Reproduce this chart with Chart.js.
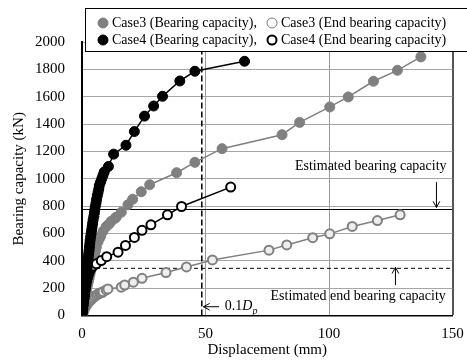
<!DOCTYPE html>
<html><head><meta charset="utf-8">
<script src="https://cdn.jsdelivr.net/npm/chart.js@4/dist/chart.umd.min.js"></script>
<style>html,body{margin:0;padding:0;background:#fff}</style>
</head><body>
<canvas id="c" width="467" height="360"></canvas>
<script>
// ---- data ----
const case3BearingDisp = [0,0.2,0.5,0.7,1,1.3,1.5,1.8,2,2.3,2.6,2.9,3.2,3.5,3.8,4.1,4.4,4.8,5.1,5.5,5.8,6.5,7.1,7.5,8.5,9.8,11,11.9,13.5,13.9,15.9,18.6,20.5,24,27.4,38.3,45.7,56.7,81,88.1,100.3,107.8,118,127.7,137.2];
const case3BearingLoad = [0,25,50,75,100,125,150,175,200,225,250,275,300,325,350,375,400,425,450,475,500,540,565,580,615,650,670,690,712,720,755,810,850,905,956,1044,1120,1220,1322,1412,1525,1598,1713,1793,1891];
const case3EndDisp = [0,0.3,0.6,0.9,1.2,1.6,2,2.4,2.8,3.2,3.7,4.1,4.5,5.1,5.8,6.4,7.1,7.5,8.2,8.5,9.8,10.5,15.9,17.3,20.8,24.3,34,42.3,52.8,75.7,82.9,93.4,100.3,109.4,119.6,128.8];
const case3EndLoad = [0,15,30,43,55,68,80,90,100,108,115,123,130,140,148,157,162,165,168,174,187,194,207,223,244,272,314,355,406,478,516,569,597,651,694,736];
const case4BearingDisp = [0,0.15,0.3,0.45,0.6,0.75,0.9,1.0,1.2,1.35,1.5,1.65,1.8,1.95,2.1,2.25,2.4,2.55,2.7,2.85,3.0,3.15,3.3,3.5,3.7,3.9,4.1,4.3,4.5,4.8,5.0,5.2,5.4,5.7,5.9,6.2,6.5,6.8,7.0,7.5,8.0,8.5,9.0,10.7,12.8,17.8,21.2,25.3,29.0,32.6,39.6,45.7,65.8];
const case4BearingLoad = [0,25,50,75,100,125,150,175,200,225,250,275,300,325,350,375,400,425,450,475,500,525,550,575,600,625,650,675,700,725,750,775,800,825,850,875,900,925,950,975,1000,1025,1050,1090,1180,1245,1345,1458,1532,1603,1715,1786,1859];
const case4EndDisp = [0,0.15,0.3,0.45,0.6,0.8,1,1.2,1.4,1.6,1.9,2.2,2.6,3.0,3.4,4.0,4.5,5.8,7.8,10,14.6,17.6,21.2,24.3,27.9,34.6,40.3,60.2];
const case4EndLoad = [0,25,50,75,100,125,150,175,200,225,250,275,300,320,340,352,362,378,402,430,463,512,571,623,663,736,797,939];
// reference levels
const estBearingCapacity = 775;
const estEndBearingCapacity = 345;
const dispLimit = 48.5;
// axis ticks
const xTickValues = [0,50,100,150];
const yTickValues = [0,200,400,600,800,1000,1200,1400,1600,1800,2000];
const seriesLabels = ['Case3 (Bearing capacity)','Case3 (End bearing capacity)','Case4 (Bearing capacity)','Case4 (End bearing capacity)'];

const pts = (xs, ys) => xs.map((x, i) => ({x, y: ys[i]}));
const SERIF = '"Liberation Serif","Times New Roman",serif';
Chart.defaults.font.family = SERIF;
Chart.defaults.color = '#000';

const datasets = [
  {label: seriesLabels[2], data: pts(case4BearingDisp, case4BearingLoad), showLine: true,
   borderColor: '#000', borderWidth: 1.5, backgroundColor: '#000', pointBackgroundColor: '#000',
   pointBorderColor: '#000', pointRadius: 5, pointBorderWidth: 1},
  {label: seriesLabels[3], data: pts(case4EndDisp, case4EndLoad), showLine: true,
   borderColor: '#000', borderWidth: 1.5, pointBackgroundColor: '#fff',
   pointBorderColor: '#000', pointRadius: 4.5, pointBorderWidth: 2},
  {label: seriesLabels[0], data: pts(case3BearingDisp, case3BearingLoad), showLine: true,
   borderColor: '#808080', borderWidth: 1.5, pointBackgroundColor: '#808080',
   pointBorderColor: '#808080', pointRadius: 5, pointBorderWidth: 1},
  {label: seriesLabels[1], data: pts(case3EndDisp, case3EndLoad), showLine: true,
   borderColor: '#808080', borderWidth: 1.5, pointBackgroundColor: '#eeeeee',
   pointBorderColor: '#808080', pointRadius: 4.5, pointBorderWidth: 2},
  {label: 'est', data: [{x: 0, y: estBearingCapacity}, {x: 150, y: estBearingCapacity}], showLine: true,
   borderColor: '#000', borderWidth: 1.2, pointRadius: 0},
  {label: 'estEnd', data: [{x: 0, y: estEndBearingCapacity}, {x: 150, y: estEndBearingCapacity}], showLine: true,
   borderColor: '#000', borderWidth: 1, borderDash: [4, 3], pointRadius: 0},
  {label: 'limit', data: [{x: dispLimit, y: 0}, {x: dispLimit, y: 2000}], showLine: true,
   borderColor: '#000', borderWidth: 1.5, borderDash: [6, 3], pointRadius: 0}
];

function arrow(ctx, x1, y1, x2, y2) {
  ctx.beginPath(); ctx.moveTo(x1, y1); ctx.lineTo(x2, y2); ctx.stroke();
  const a = Math.atan2(y2 - y1, x2 - x1), L = 7, w = 0.5;
  ctx.beginPath();
  ctx.moveTo(x2 - L * Math.cos(a - w), y2 - L * Math.sin(a - w));
  ctx.lineTo(x2, y2);
  ctx.lineTo(x2 - L * Math.cos(a + w), y2 - L * Math.sin(a + w));
  ctx.stroke();
}

const overlay = {
  id: 'overlay',
  afterDraw(chart) {
    const {ctx, scales: {x, y}} = chart;
    ctx.save();
    ctx.fillStyle = '#000'; ctx.strokeStyle = '#000'; ctx.lineWidth = 1;
    // annotations
    ctx.font = '14px ' + SERIF;
    ctx.textBaseline = 'middle'; ctx.textAlign = 'right';
    ctx.fillText('Estimated bearing capacity', x.getPixelForValue(147.6), y.getPixelForValue(1088));
    ctx.fillText('Estimated end bearing capacity', x.getPixelForValue(147.3), y.getPixelForValue(139));
    arrow(ctx, x.getPixelForValue(143.5), y.getPixelForValue(975), x.getPixelForValue(143.5), y.getPixelForValue(790));
    arrow(ctx, x.getPixelForValue(126.9), y.getPixelForValue(222), x.getPixelForValue(126.9), y.getPixelForValue(352));
    arrow(ctx, x.getPixelForValue(55.5), y.getPixelForValue(64), x.getPixelForValue(49.2), y.getPixelForValue(64));
    ctx.textAlign = 'left';
    let tx = x.getPixelForValue(57.8), ty = y.getPixelForValue(66);
    ctx.fillText('0.1', tx, ty); tx += ctx.measureText('0.1').width;
    ctx.font = 'italic 14px ' + SERIF;
    ctx.fillText('D', tx, ty); tx += ctx.measureText('D').width;
    ctx.font = 'italic 10px ' + SERIF;
    ctx.fillText('p', tx, ty + 5);
    // legend box
    ctx.fillStyle = '#fff';
    ctx.fillRect(85.5, 8.5, 390, 43);
    ctx.strokeStyle = '#000'; ctx.lineWidth = 1;
    ctx.strokeRect(85.5, 8.5, 390, 43);
    ctx.font = '14px ' + SERIF; ctx.textBaseline = 'middle'; ctx.textAlign = 'left';
    const items = [
      {t: seriesLabels[0] + ',', mx: 103, my: 23, fill: '#808080', stroke: '#808080', lw: 1, r: 5},
      {t: seriesLabels[1], mx: 272, my: 23, fill: '#fff', stroke: '#808080', lw: 1, r: 5},
      {t: seriesLabels[2] + ',', mx: 103, my: 40, fill: '#000', stroke: '#000', lw: 1, r: 5},
      {t: seriesLabels[3], mx: 272, my: 40, fill: '#fff', stroke: '#000', lw: 2, r: 4.5}
    ];
    items.forEach(it => {
      ctx.beginPath(); ctx.arc(it.mx, it.my, it.r, 0, Math.PI * 2);
      ctx.fillStyle = it.fill; ctx.fill();
      ctx.lineWidth = it.lw; ctx.strokeStyle = it.stroke; ctx.stroke();
      ctx.fillStyle = '#000';
      ctx.fillText(it.t, it.mx + 9, it.my + 0.5);
    });
    ctx.restore();
  }
};

new Chart(document.getElementById('c'), {
  type: 'scatter',
  data: {datasets},
  plugins: [overlay],
  options: {
    responsive: false, animation: false,
    layout: {padding: {left: 0, right: 14.5, top: 42, bottom: 0}},
    plugins: {legend: {display: false}, tooltip: {enabled: false}},
    scales: {
      x: {
        type: 'linear', min: 0, max: 150,
        afterBuildTicks: s => { s.ticks = xTickValues.map(v => ({value: v})); },
        afterFit: s => { s.height = 44.5; s.paddingRight = 0; s.paddingLeft = 0; },
        ticks: {padding: 10, font: {size: 15, family: SERIF}, color: '#000', maxRotation: 0, callback: v => String(v)},
        grid: {drawTicks: false,
          color: c => c.tick && c.tick.value === 150 ? '#555' : (c.tick && c.tick.value === 0 ? 'rgba(0,0,0,0)' : '#9a9a9a'),
          lineWidth: c => c.tick && c.tick.value === 150 ? 2 : 1},
        border: {color: '#000', width: 1.5},
        title: {display: true, text: 'Displacement (mm)', font: {size: 15, family: SERIF}, color: '#000', padding: {top: 0, bottom: 1}}
      },
      y: {
        type: 'linear', min: 0, max: 2000,
        afterBuildTicks: s => { s.ticks = yTickValues.map(v => ({value: v})); },
        afterFit: s => { s.width = 82; },
        ticks: {padding: 17, font: {size: 15, family: SERIF}, color: '#000', callback: v => String(v)},
        grid: {drawTicks: false,
          color: c => c.tick && c.tick.value === 0 ? 'rgba(0,0,0,0)' : '#a6a6a6', lineWidth: 1},
        border: {color: '#000', width: 2},
        title: {display: true, text: 'Bearing capacity (kN)', font: {size: 15, family: SERIF}, color: '#000', padding: {top: 10, bottom: 0}}
      }
    }
  }
});
</script>
</body></html>
